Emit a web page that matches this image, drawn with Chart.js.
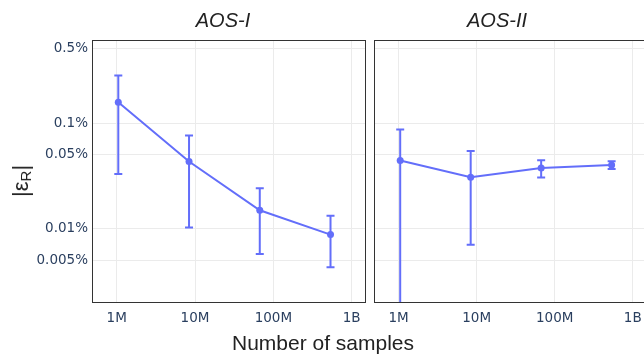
<!DOCTYPE html>
<html>
<head>
<meta charset="utf-8">
<script src="https://cdn.jsdelivr.net/npm/chart.js@4.4.1/dist/chart.umd.min.js"></script>
<style>
  html, body { margin: 0; padding: 0; background: #fff; }
  body { width: 644px; height: 355px; overflow: hidden; position: relative; }
  .panel { position: absolute; top: 0; }
  .ptitle { position: absolute; top: 9px; font: italic 20px "Liberation Sans", sans-serif; color: #222; transform: translateX(-50%); white-space: nowrap; }
  #xtitle { position: absolute; top: 331px; left: 323px; transform: translateX(-50%); font: 21px "Liberation Sans", sans-serif; color: #222; white-space: nowrap; }
  #ytitle { position: absolute; left: 21px; top: 181px; transform: translate(-50%, -50%) rotate(-90deg); font: 22px "Liberation Sans", sans-serif; color: #222; white-space: nowrap; }
  #ytitle sub { font-size: 15px; vertical-align: -3px; }
</style>
</head>
<body>
<div class="panel" style="left:0px"><canvas id="cLeft" width="370" height="355"></canvas></div>
<div class="panel" style="left:370px"><canvas id="cRight" width="281" height="355"></canvas></div>
<div class="ptitle" style="left:223px">AOS-I</div>
<div class="ptitle" style="left:497px">AOS-II</div>
<div id="xtitle">Number of samples</div>
<div id="ytitle">|ε<sub>R</sub>|</div>
<script>
// Sample counts (2^20 ... 2^29)
const sampleSizes = [1048576, 8388608, 67108864, 536870912];

// Mean relative error |eps_R| in percent, with symmetric error bars
const aos1Mean = [0.157, 0.0433, 0.0150, 0.00885];
const aos1Err  = [0.124, 0.033, 0.0092, 0.0045];
const aos2Mean = [0.0442, 0.0308, 0.0376, 0.0402];
const aos2Err  = [0.0425, 0.0237, 0.0070, 0.0033];

// Axis ticks
const xTickValues = [1e6, 1e7, 1e8, 1e9];
const xTickLabels = ['1M', '10M', '100M', '1B'];
const yTickValues = [0.005, 0.01, 0.05, 0.1, 0.5];
const yTickLabels = ['0.005%', '0.01%', '0.05%', '0.1%', '0.5%'];

const X_MIN = 4.84e5, X_MAX = 1.524e9;
const Y_MIN = 0.002, Y_MAX = 0.608;

const COLOR = '#636efa';
const tickFont = { family: 'DejaVu Sans', size: 13.5 };
const tickColor = '#2a3f5f';
const gridColor = '#ebebeb';

// Symmetric vertical error bars, clipped to the plotting area
const errorBarPlugin = {
  id: 'errorBars',
  beforeDatasetsDraw(chart) {
    const { ctx, chartArea, scales } = chart;
    const xs = scales.x, ys = scales.y;
    ctx.save();
    ctx.beginPath();
    ctx.rect(chartArea.left, chartArea.top, chartArea.right - chartArea.left, chartArea.bottom - chartArea.top);
    ctx.clip();
    ctx.strokeStyle = COLOR;
    ctx.lineWidth = 2;
    chart.data.datasets.forEach(ds => {
      const errs = ds.errorBars || [];
      ds.data.forEach((p, i) => {
        const e = errs[i];
        if (e == null) return;
        const px = xs.getPixelForValue(p.x);
        const hi = p.y + e, lo = p.y - e;
        const pyHi = ys.getPixelForValue(hi);
        const pyLo = lo > 0 ? ys.getPixelForValue(lo) : chartArea.bottom + 20;
        ctx.beginPath();
        ctx.moveTo(px, pyHi); ctx.lineTo(px, pyLo);
        ctx.moveTo(px - 4, pyHi); ctx.lineTo(px + 4, pyHi);
        if (lo > 0) { ctx.moveTo(px - 4, pyLo); ctx.lineTo(px + 4, pyLo); }
        ctx.stroke();
      });
    });
    ctx.restore();
  }
};

// Frame around the plotting area
const framePlugin = {
  id: 'frame',
  afterDatasetsDraw(chart) {
    const { ctx, chartArea: a } = chart;
    ctx.save();
    ctx.strokeStyle = '#333';
    ctx.lineWidth = 1;
    ctx.strokeRect(Math.round(a.left) + 0.5, Math.round(a.top) + 0.5,
                   Math.round(a.right - a.left) - 1, Math.round(a.bottom - a.top) - 1);
    ctx.restore();
  }
};

function makeChart(canvasId, means, errs, showYLabels) {
  const points = sampleSizes.map((n, i) => ({ x: n, y: means[i] }));
  return new Chart(document.getElementById(canvasId), {
    type: 'line',
    data: {
      datasets: [{
        data: points,
        errorBars: errs,
        borderColor: COLOR,
        backgroundColor: COLOR,
        borderWidth: 2,
        pointRadius: 3.5,
        pointBorderWidth: 0,
        pointBackgroundColor: COLOR,
        tension: 0
      }]
    },
    options: {
      responsive: false,
      animation: false,
      events: [],
      layout: { padding: { top: 40, right: 4, bottom: 0, left: 0 } },
      plugins: { legend: { display: false }, title: { display: false }, tooltip: { enabled: false } },
      scales: {
        x: {
          type: 'logarithmic',
          min: X_MIN, max: X_MAX,
          bounds: 'data',
          grid: { color: gridColor, drawTicks: false, lineWidth: 1 },
          border: { display: false },
          afterBuildTicks: s => { s.ticks = xTickValues.map(v => ({ value: v })); },
          afterFit: s => { s.height = 52; },
          ticks: {
            autoSkip: false, maxRotation: 0, padding: 7,
            font: tickFont, color: tickColor,
            callback: v => xTickLabels[xTickValues.indexOf(v)] ?? ''
          }
        },
        y: {
          type: 'logarithmic',
          min: Y_MIN, max: Y_MAX,
          bounds: 'data',
          grid: { color: gridColor, drawTicks: false, lineWidth: 1 },
          border: { display: false },
          afterBuildTicks: s => { s.ticks = yTickValues.map(v => ({ value: v })); },
          afterFit: s => { s.width = showYLabels ? 92 : 3; },
          ticks: {
            display: showYLabels,
            autoSkip: false, padding: 4,
            font: tickFont, color: tickColor,
            callback: v => yTickLabels[yTickValues.indexOf(v)] ?? ''
          }
        }
      }
    },
    plugins: [errorBarPlugin, framePlugin]
  });
}

makeChart('cLeft', aos1Mean, aos1Err, true);
makeChart('cRight', aos2Mean, aos2Err, false);
</script>
</body>
</html>
